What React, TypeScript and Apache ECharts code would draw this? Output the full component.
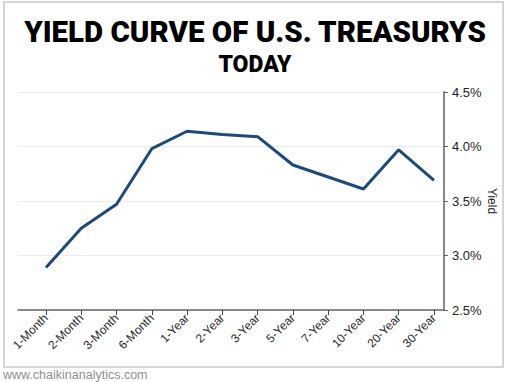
import React, { useEffect, useRef } from "react";
import * as echarts from "echarts";

const categories = ["1-Month", "2-Month", "3-Month", "6-Month", "1-Year", "2-Year", "3-Year", "5-Year", "7-Year", "10-Year", "20-Year", "30-Year"];
const yields = [2.89, 3.25, 3.47, 3.98, 4.14, 4.11, 4.09, 3.83, 3.72, 3.61, 3.97, 3.69];
const yMin = 2.5;
const yMax = 4.5;
const yInterval = 0.5;
const titleText = "YIELD CURVE OF U.S. TREASURYS";
const subtitleText = "TODAY";
const footerText = "www.chaikinanalytics.com";

export default function App() {
  const ref = useRef<HTMLDivElement>(null);
  useEffect(() => {
    if (!ref.current) return;
    const chart = echarts.init(ref.current, null, { renderer: "svg" });
    chart.setOption({
      animation: false,
      backgroundColor: "#ffffff",
      title: [
        {
          text: titleText,
          left: "center",
          top: 12,
          textStyle: { fontFamily: "Roboto", fontWeight: 900, fontSize: 29.5, color: "#000" },
        },
        {
          text: subtitleText,
          left: "center",
          top: 48,
          textStyle: { fontFamily: "Roboto", fontWeight: 900, fontSize: 23, color: "#000" },
        },
      ],
      graphic: [
        {
          type: "rect",
          shape: { x: 4, y: 2, width: 499, height: 365 },
          style: { fill: "none", stroke: "#c8c8c8", lineWidth: 1.5 },
          silent: true,
        },
        {
          type: "text",
          left: 3,
          top: 368,
          style: { text: footerText, fill: "#8f8f8f", fontSize: 12.5, fontFamily: "Liberation Sans" },
        },
      ],
      grid: [
        { left: 18, right: 66, top: 92, bottom: 72 },
        { left: 46, right: 76, top: 92, bottom: 72 },
      ],
      xAxis: [
        {
          gridIndex: 0,
          type: "value",
          min: 0,
          max: 1,
          axisLine: { show: true, onZero: false, lineStyle: { color: "#666", width: 1.5 } },
          axisTick: { show: false },
          axisLabel: { show: false },
          splitLine: { show: false },
        },
        {
          gridIndex: 1,
          type: "category",
          data: categories,
          boundaryGap: false,
          axisLine: { show: false },
          axisTick: { show: true, length: 5, lineStyle: { color: "#444", width: 1 } },
          axisLabel: {
            rotate: 45,
            interval: 0,
            fontSize: 12,
            color: "#2a2a2a",
            fontFamily: "Liberation Sans",
            margin: 6,
          },
          splitLine: { show: false },
        },
      ],
      yAxis: [
        {
          gridIndex: 0,
          type: "value",
          position: "right",
          min: yMin,
          max: yMax,
          interval: yInterval,
          name: "Yield",
          nameLocation: "middle",
          nameRotate: -90,
          nameGap: 42,
          nameMoveOverlap: false,
          nameTextStyle: { fontSize: 12, color: "#222", fontFamily: "Liberation Sans" },
          axisLine: { show: true, onZero: false, lineStyle: { color: "#8a8a8a", width: 2 } },
          axisTick: { show: true, length: 4, lineStyle: { color: "#666" } },
          axisLabel: {
            formatter: (v: number) => v.toFixed(1) + "%",
            fontSize: 13,
            color: "#222",
            fontFamily: "Liberation Sans",
            margin: 8,
          },
          splitLine: { show: true, lineStyle: { color: "#ececec", width: 1 } },
        },
        {
          gridIndex: 1,
          type: "value",
          min: yMin,
          max: yMax,
          interval: yInterval,
          show: false,
          splitLine: { show: false },
        },
      ],
      series: [
        {
          type: "line",
          xAxisIndex: 1,
          yAxisIndex: 1,
          data: yields,
          symbol: "none",
          lineStyle: { color: "#1c4a7c", width: 3 },
        },
      ],
    });
    return () => chart.dispose();
  }, []);
  return <div ref={ref} style={{ position: "fixed", left: 0, top: 0, width: 510, height: 382 }} />;
}
